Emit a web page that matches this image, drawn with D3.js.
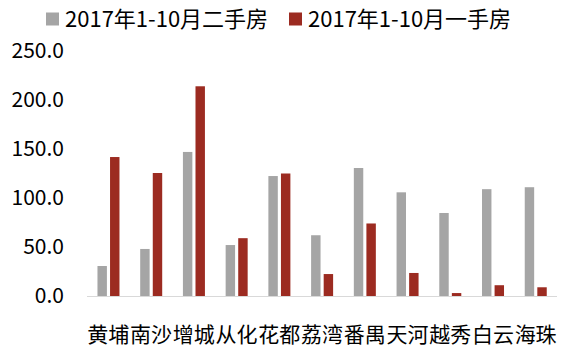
<!DOCTYPE html>
<html>
<head>
<meta charset="utf-8">
<script src="https://cdn.jsdelivr.net/npm/d3@7"></script>
<style>
  body { margin: 0; background: #fff; }
  text { font-family: "Noto Sans CJK SC", "Noto Sans", sans-serif; fill: #000; }
</style>
</head>
<body>
<div id="container"></div>
<script>
// data
const districts = ["黄埔", "南沙", "增城", "从化", "花都", "荔湾", "番禺", "天河", "越秀", "白云", "海珠"];
const seriesNames = ["2017年1-10月二手房", "2017年1-10月一手房"];
const secondHand = [30.6, 48, 147, 52, 122.4, 62, 130.6, 105.8, 84.7, 109, 111];
const firstHand = [141.8, 125.5, 214, 59, 125, 22.4, 74, 23.5, 3, 11, 8.9];
const yTicks = [0, 50, 100, 150, 200, 250];
const colors = ["#A5A5A5", "#9C2B21"];

const width = 574, height = 354,
  margin = { top: 51, bottom: 58, left: 87, right: 17 };

const svg = d3.select("#container")
  .append("svg")
  .attr("width", width)
  .attr("height", height);

const x0 = d3.scaleBand()
  .domain(districts)
  .range([margin.left, width - margin.right])
  .paddingInner(0);

const x1 = d3.scaleBand()
  .domain(seriesNames)
  .range([x0.bandwidth() * 0.245, x0.bandwidth() * 0.76])
  .paddingInner(0.25);

const y = d3.scaleLinear()
  .domain([0, 250])
  .range([height - margin.bottom, margin.top]);

// y labels (no axis line)
svg.append("g")
  .selectAll("text")
  .data(yTicks)
  .join("text")
  .attr("x", 64)
  .attr("y", d => y(d))
  .attr("dy", "0.35em")
  .attr("text-anchor", "end")
  .style("font-size", "21px")
  .text(d3.format(".1f"));

// bars
const rows = districts.map((d, i) => ({ name: d, values: [secondHand[i], firstHand[i]] }));

svg.append("g")
  .selectAll("g")
  .data(rows)
  .join("g")
  .attr("transform", d => `translate(${x0(d.name)},0)`)
  .selectAll("rect")
  .data(d => d.values.map((v, j) => ({ key: seriesNames[j], value: v, j })))
  .join("rect")
  .attr("x", d => x1(d.key))
  .attr("width", x1.bandwidth())
  .attr("y", d => y(d.value))
  .attr("height", d => y(0) - y(d.value))
  .attr("fill", d => colors[d.j]);

// baseline
svg.append("line")
  .attr("x1", margin.left)
  .attr("x2", width - margin.right)
  .attr("y1", y(0) + 0.5)
  .attr("y2", y(0) + 0.5)
  .attr("stroke", "#D9D9D9")
  .attr("stroke-width", 1);

// x labels
svg.append("g")
  .selectAll("text")
  .data(districts)
  .join("text")
  .attr("x", d => x0(d) + x0.bandwidth() / 2)
  .attr("y", 335)
  .attr("dy", "0.35em")
  .attr("text-anchor", "middle")
  .style("font-size", "21px")
  .text(d => d);

// legend
const legendX = [46, 289];
const legend = svg.append("g")
  .selectAll("g")
  .data(seriesNames)
  .join("g")
  .attr("transform", (d, i) => `translate(${legendX[i]},19)`);

legend.append("rect")
  .attr("x", 0)
  .attr("y", -6.5)
  .attr("width", 13)
  .attr("height", 13)
  .attr("fill", (d, i) => colors[i]);

legend.append("text")
  .attr("x", 19)
  .attr("y", 0)
  .attr("dy", "0.35em")
  .style("font-size", "22px")
  .text(d => d);
</script>
</body>
</html>
